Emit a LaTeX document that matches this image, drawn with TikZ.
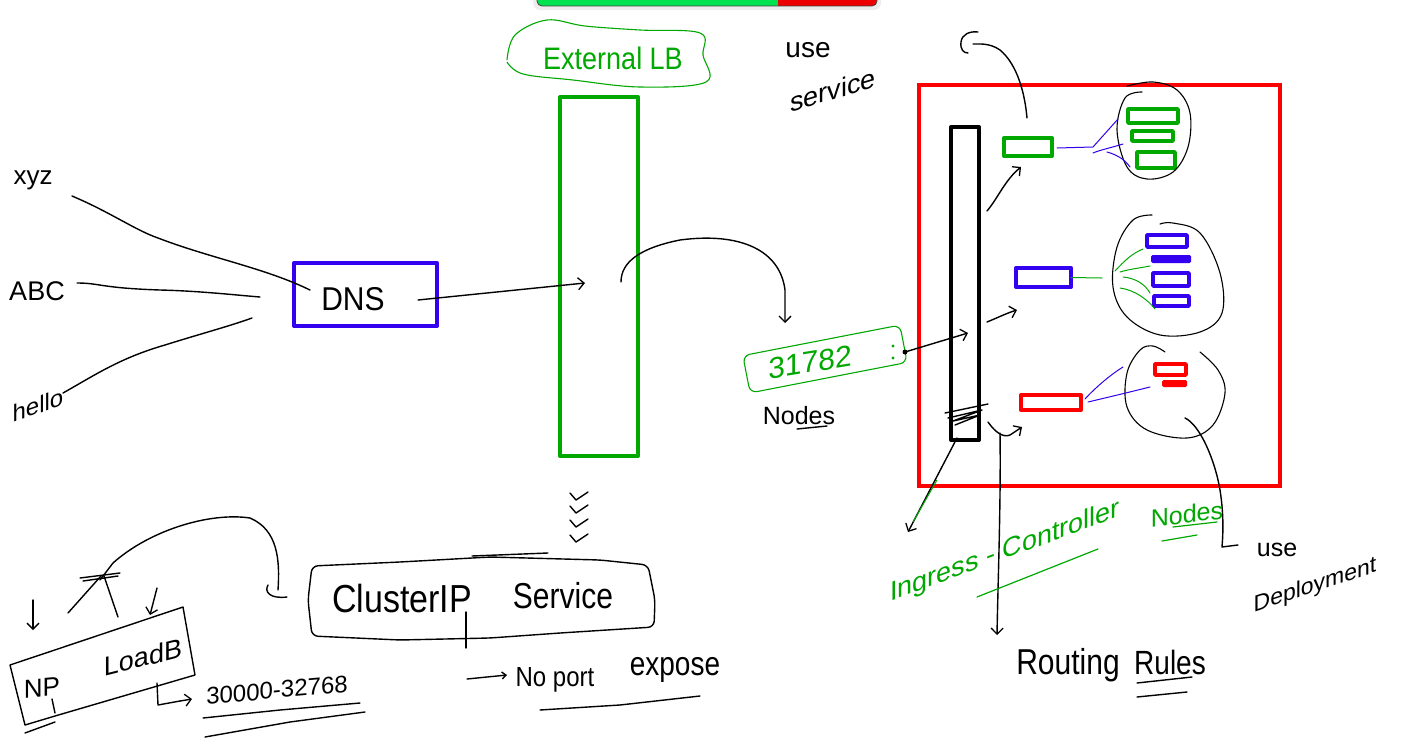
\documentclass[tikz,border=0pt]{standalone}
\usepackage{fontspec}
\setmainfont{Liberation Sans}
\usetikzlibrary{arrows.meta}
\definecolor{penblue}{RGB}{51,0,240}
\definecolor{pengreen}{RGB}{0,168,0}
\definecolor{penred}{RGB}{255,0,0}
\definecolor{barGreen}{RGB}{0,226,80}
\definecolor{barRed}{RGB}{236,0,0}
\newcommand{\fs}[1]{\fontsize{#1}{#1}\selectfont}
\begin{document}
\begin{tikzpicture}[x=1pt,y=-1pt,
  ink/.style={line width=1.4pt, line cap=round, line join=round},
  thin ink/.style={line width=1.1pt, line cap=round, line join=round},
  heavy/.style={line width=4pt, line join=round},
  podbox/.style={line width=3.6pt, line join=round},
  hand/.style={inner sep=0pt, outer sep=0pt},
  barb/.style={-{Straight Barb[length=6pt,width=12pt,line width=1.3pt]}},
]
\useasboundingbox (0,0) rectangle (1406,750);
\fill[white] (0,0) rectangle (1406,750);

% ---- toolbar strip at the top edge ----
\fill[black,opacity=0.07,rounded corners=7pt] (533,-10) rectangle (881,10);
\begin{scope}
  \clip[rounded corners=5pt] (537,-10) rectangle (877,6);
  \fill[barGreen] (537,-10) rectangle (778,6);
  \fill[barRed] (778,-10) rectangle (877,6);
\end{scope}
\draw[black!75,line width=0.8pt,rounded corners=5pt] (537,-10) -- (537,6) -- (877,6) -- (877,-10);

% ---- host names and DNS ----
\node[hand,font=\fs{26}] (xyz) at (33,180) {xyz};
\node[hand,font=\fs{27}] (abc) at (37,291) {ABC};
\node[hand,font=\fs{24},yslant=0.34] (hello) at (38,405) {hello};

\node[draw=penblue,heavy,minimum width=143,minimum height=63,hand,font=\fs{30}] (dns) at (365.5,294.5) {};
\node[hand,font=\fs{30},yscale=1.1] (dnslbl) at (353,299) {DNS};

\coordinate (xyzE) at (72,196);
\coordinate (abcE) at (77,283);
\coordinate (helloE) at (63,393);
\draw[ink] (xyzE) .. controls (110,212) and (135,230) .. (158,238) .. controls (210,258) and (265,268) .. (310,290);
\draw[ink] (abcE) .. controls (100,283) and (100,288) .. (160,290) .. controls (200,291) and (235,295) .. (260,297);
\draw[ink] (helloE) .. controls (95,375) and (120,358) .. (165,345) .. controls (200,334) and (230,326) .. (252,318);

% ---- external load balancer ----
\node[draw=pengreen,heavy,minimum width=78,minimum height=359,hand] (elb) at (599,276.5) {};
\draw[pengreen,line width=1.1pt] plot[smooth,tension=0.6] coordinates
  {(507,60) (515,35) (547,20) (585,26) (640,30) (700,33) (703,55) (706,82) (640,87) (573,80) (523,74) (507,62)};
\node[hand,text=pengreen,font=\fs{27},yscale=1.15] (elblbl) at (613,58) {External LB};

\coordinate (dnsOut) at (418,300);
\coordinate (elbIn) at (585,283);
\draw[ink,barb] (dnsOut) -- (elbIn);

\coordinate (elbOut) at (621,282);
\coordinate (portTop) at (785,323);
\draw[ink,barb] (elbOut) .. controls (621,262) and (640,248) .. (680,240) .. controls (740,232) and (780,250) .. (785,290) -- (portTop);

\node[hand,font=\fs{28}] (use1) at (808,50) {use};
\node[hand,font=\fs{27},yslant=0.3] (svc1) at (833,90) {service};

% ---- node port ----
\node[draw=pengreen,line width=1.1pt,rounded corners=7pt,rotate=11,minimum width=160,minimum height=38,hand] (port) at (825,359) {};
\node[hand,text=pengreen,font=\fs{30},yslant=0.16] (portlbl) at (810,362) {31782};
\fill[pengreen] (893,346) circle (1.6pt) (893,358) circle (1.6pt);
\node[hand,font=\fs{25}] (nodes1) at (799,416) {Nodes};
\draw[ink] (797,429) -- (827,426);

% ---- cluster with ingress ----
\node[draw=penred,line width=4.5pt,minimum width=361,minimum height=401,hand] (cluster) at (1099.5,285.5) {};
\node[draw=black,heavy,minimum width=28,minimum height=313,hand] (ingress) at (965,283.5) {};
\draw[ink] (945,413) -- (988,404) (948,418) -- (982,410) -- (953,421) -- (980,415) -- (955,425);

\node[draw=pengreen,heavy,minimum width=48,minimum height=18,hand] (svcA) at (1028,147) {};
\node[draw=penblue,heavy,minimum width=55,minimum height=19,hand] (svcB) at (1043.5,277.5) {};
\node[draw=penred,heavy,minimum width=60,minimum height=15,hand] (svcC) at (1051,402.5) {};

% pods, group A
\node[draw=pengreen,podbox,minimum width=50,minimum height=14,hand] (a1) at (1153,116) {};
\node[draw=pengreen,podbox,minimum width=41,minimum height=10,hand] (a2) at (1152.5,136) {};
\node[draw=pengreen,podbox,minimum width=38,minimum height=16,hand] (a3) at (1156,160) {};
\draw[thin ink] plot[smooth,tension=0.6] coordinates
  {(1142,92) (1125,98) (1117,130) (1127,167) (1147,179) (1173,172) (1188,147) (1190,113) (1177,90) (1153,82) (1127,86)};
% pods, group B
\node[draw=penblue,podbox,minimum width=40,minimum height=12,hand] (b1) at (1167,241) {};
\node[fill=penblue,rounded corners=1.5pt,minimum width=40,minimum height=8,hand] (b2) at (1171,259) {};
\node[draw=penblue,podbox,minimum width=36,minimum height=13,hand] (b3) at (1171,279.5) {};
\node[draw=penblue,podbox,minimum width=35,minimum height=10,hand] (b4) at (1171.5,301) {};
\draw[thin ink] plot[smooth,tension=0.6] coordinates
  {(1152,215) (1133,220) (1117,247) (1113,287) (1127,317) (1160,335) (1200,332) (1222,313) (1220,273) (1200,233) (1173,223) (1160,224)};
% pods, group C
\node[draw=penred,podbox,minimum width=31,minimum height=11,hand] (c1) at (1170.5,369.5) {};
\node[fill=penred,rounded corners=1.5pt,minimum width=25,minimum height=7,hand] (c2) at (1174.5,383.5) {};
\draw[thin ink] plot[smooth,tension=0.6] coordinates
  {(1165,352) (1153,346) (1140,350) (1127,373) (1127,407) (1147,430) (1187,438) (1213,425) (1225,393) (1218,370) (1200,352)};

% service to pod fan-out
\draw[penblue,line width=1pt,line cap=round] (svcA.east) ++(5,1) -- (1093,147) -- (1118,119)
  (1093,153) .. controls (1100,150) and (1110,148) .. (1123,144)
  (1107,152) .. controls (1118,155) and (1125,160) .. (1130,167);
\draw[pengreen,line width=1pt,line cap=round] (svcB.east) -- (1102,278)
  (1115,271) .. controls (1125,260) and (1133,253) .. (1143,249)
  (1120,272) .. controls (1130,269) and (1140,268) .. (1150,266)
  (1123,277) .. controls (1135,278) and (1145,284) .. (1150,293)
  (1120,288) .. controls (1135,290) and (1148,300) .. (1155,309);
\draw[penblue,line width=1pt,line cap=round] (1085,399) .. controls (1095,388) and (1110,375) .. (1123,367)
  (1088,402) .. controls (1105,398) and (1130,392) .. (1150,387);

% ingress to services
\draw[ink,barb] (987,211) .. controls (998,198) and (1005,180) .. (1021,167);
\draw[ink,barb] (987,322) .. controls (997,318) and (1007,313) .. (1017,310);
\draw[ink,barb] (988,422) .. controls (995,432) and (1003,438) .. (1010,435) -- (1022,427);

% node port into ingress
\fill (905,352) circle (2.5pt);
\draw[ink,barb] (905,352) -- (968,333);

% pointer above group A
\draw[ink] (1027,118) .. controls (1025,95) and (1018,65) .. (1000,50) .. controls (990,43) and (980,44) .. (973,44);
\draw[ink] (978,32) .. controls (970,31) and (962,34) .. (961,42) .. controls (960,50) and (964,53) .. (968,53);

% labels below the cluster
\coordinate (ingLbl) at (908,532);
\draw[ink,barb] (957,438) -- (ingLbl);
\draw[pengreen,line width=1pt] (937,480) -- (913,522);
\coordinate (rulesTop) at (997,635);
\draw[ink,barb] (1000,433) .. controls (1001,500) and (998,580) .. (rulesTop);
\draw[ink] (1185,418) .. controls (1200,425) and (1215,460) .. (1220,490) .. controls (1224,515) and (1223,535) .. (1222,547) -- (1238,545);

\node[hand,text=pengreen,font=\fs{27},yslant=0.37] (icLbl) at (1005,552) {Ingress - Controller};
\draw[pengreen,line width=1.2pt,line cap=round] (977,597) -- (1098,549);
\node[hand,text=pengreen,font=\fs{25},yslant=0.12] (nodes2) at (1187,514) {Nodes};
\draw[pengreen,line width=1.2pt,line cap=round] (1173,527) -- (1217,522) (1162,541) -- (1197,535);

\node[hand,font=\fs{25}] (use2) at (1277,550) {use};
\node[hand,font=\fs{23},yslant=0.33] (deploy) at (1315,586) {Deployment};

\node[hand,font=\fs{30},yscale=1.2] (routing) at (1068,665) {Routing};
\node[hand,font=\fs{28},yscale=1.2] (rules) at (1170,662) {Rules};
\draw[ink] (1137,683) -- (1192,677) (1137,697) -- (1187,692);

% ---- ClusterIP service ----
\foreach \y in {497,510,524,539}
  \draw[ink] (570,\y-4) -- (576,\y+3) -- (588,\y-5);
\draw[ink,rounded corners=6pt] (312,566) -- (400,562) -- (490,557) -- (600,560) -- (648,565)
  -- (655,600) -- (654,627) -- (560,633) -- (490,638) -- (400,640) -- (312,636) -- (308,600) -- cycle;
\draw[ink] (472,556) -- (548,553);
\node[hand,font=\fs{34},yscale=1.15] (cip) at (402,599) {ClusterIP};
\node[hand,font=\fs{30},yscale=1.2] (svc2) at (563,596) {Service};
\draw[ink] (466,612) -- (466,648);

\coordinate (noArrowS) at (467,679);
\coordinate (noArrowE) at (507,675);
\draw[ink,-{Straight Barb[length=4pt,width=7pt]}] (noArrowS) -- (noArrowE);
\node[hand,font=\fs{24},yscale=1.15] (noport) at (555,680) {No port};
\node[hand,font=\fs{28},yscale=1.2] (expose) at (675,670) {expose};
\draw[ink] (540,710) -- (620,705) -- (700,696);

% ---- NodePort / LoadBalancer ----
\draw[ink] (10,665) -- (183,607) -- (195,675) -- (55,716) -- (25,725) -- cycle;
\draw[ink] (25,733) -- (55,722);
\draw[ink] (52,699) -- (55,713);
\node[hand,font=\fs{26},yslant=0.09] (np) at (42,688) {NP};
\node[hand,font=\fs{27},yslant=0.25] (loadb) at (143,657) {LoadB};

\coordinate (hookTop) at (278,590);
\draw[ink] (268,585) .. controls (264,592) and (270,599) .. (287,597);
\draw[ink] (hookTop) .. controls (280,560) and (278,530) .. (250,518) .. controls (210,512) and (150,530) .. (113,563) -- (100,580);
\draw[ink] (80,578) -- (120,573) (83,581) -- (118,576);
\draw[ink] (101,576) -- (68,613) (104,576) -- (118,617);
\draw[ink,barb] (33,600) -- (33,630);
\draw[ink,barb] (157,588) -- (150,615);

\draw[ink] (157,683) -- (158,705) -- (180,701);
\draw[ink,barb] (180,701) -- (192,699);
\node[hand,font=\fs{24},yslant=0.09] (range) at (277,690) {30000-32768};
\draw[ink] (203,718) -- (280,710) -- (360,703) (205,737) -- (290,722) -- (365,712);
\end{tikzpicture}
\end{document}
